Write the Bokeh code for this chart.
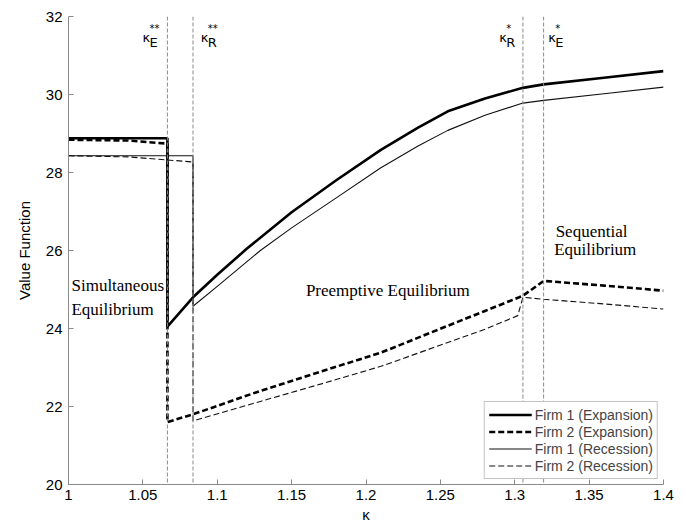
from bokeh.plotting import figure
from bokeh.models import Span, Legend, LegendItem, Range1d
from bokeh.core.properties import value
from bokeh.embed import file_html
from bokeh.resources import INLINE

# ---- axis ticks ----
x_ticks = [1.0, 1.05, 1.1, 1.15, 1.2, 1.25, 1.3, 1.35, 1.4]
x_tick_labels = ["1", "1.05", "1.1", "1.15", "1.2", "1.25", "1.3", "1.35", "1.4"]
y_ticks = [20, 22, 24, 26, 28, 30, 32]
y_tick_labels = ["20", "22", "24", "26", "28", "30", "32"]

# ---- thresholds (kappa_E**, kappa_R**, kappa_R*, kappa_E*) ----
thresholds = [1.0665, 1.0837, 1.3055, 1.3194]
threshold_subs = ["E", "R", "R", "E"]
threshold_sups = ["**", "**", "*", "*"]
threshold_label_x = [1.0498, 1.0889, 1.2896, 1.3226]
threshold_label_y = [31.45, 31.45, 31.45, 31.45]

# ---- series ----
f1e_x = [1.0, 1.0665, 1.0665, 1.0837, 1.10, 1.12, 1.15, 1.18, 1.21, 1.235, 1.255, 1.28, 1.3055, 1.3194, 1.36, 1.4]
f1e_y = [28.88, 28.88, 24.05, 24.80, 25.38, 26.05, 26.98, 27.80, 28.58, 29.15, 29.57, 29.90, 30.17, 30.26, 30.43, 30.60]

f2e_x = [1.0, 1.04, 1.0665, 1.0665, 1.0837, 1.129, 1.17, 1.21, 1.255, 1.28, 1.3055, 1.3194, 1.36, 1.4]
f2e_y = [28.84, 28.82, 28.74, 21.60, 21.80, 22.40, 22.90, 23.38, 24.07, 24.45, 24.84, 25.22, 25.10, 24.97]

f1r_x = [1.0, 1.0837, 1.0837, 1.10, 1.129, 1.15, 1.18, 1.21, 1.235, 1.255, 1.28, 1.3055, 1.3194, 1.36, 1.4]
f1r_y = [28.43, 28.43, 24.57, 25.08, 26.00, 26.58, 27.35, 28.12, 28.68, 29.08, 29.47, 29.78, 29.85, 30.02, 30.19]

f2r_x = [1.0, 1.04, 1.0837, 1.0837, 1.129, 1.17, 1.21, 1.255, 1.28, 1.302, 1.3055, 1.3194, 1.36, 1.4]
f2r_y = [28.43, 28.40, 28.27, 21.63, 22.13, 22.58, 23.03, 23.64, 23.98, 24.33, 24.80, 24.75, 24.63, 24.50]

series_names = ["Firm 1 (Expansion)", "Firm 2 (Expansion)", "Firm 1 (Recession)", "Firm 2 (Recession)"]

# ---- region annotations ----
region_text = ["Simultaneous", "Equilibrium", "Preemptive Equilibrium", "Sequential", "Equilibrium"]
region_x = [1.002, 1.002, 1.1596, 1.3275, 1.3265]
region_y = [25.10, 24.50, 24.97, 26.48, 26.02]

p = figure(width=674, height=525, output_backend="svg", toolbar_location=None,
           x_range=Range1d(1.0, 1.4), y_range=Range1d(20, 32),
           min_border_left=68, min_border_right=11, min_border_top=16, min_border_bottom=35)
p.outline_line_color = None
p.xgrid.grid_line_color = None
p.ygrid.grid_line_color = None
p.background_fill_color = "white"
p.border_fill_color = "white"

for ax in (p.xaxis[0], p.yaxis[0]):
    ax.axis_line_color = "#8a8a8a"
    ax.major_tick_line_color = "#8a8a8a"
    ax.major_tick_in = 5
    ax.major_tick_out = 0
    ax.minor_tick_line_color = None
    ax.major_label_text_font = "Liberation Sans"
    ax.major_label_text_font_size = "15px"
    ax.major_label_text_color = "black"
    ax.axis_label_text_font = "Liberation Sans"
    ax.axis_label_text_font_size = "15px"
    ax.axis_label_text_font_style = "normal"
    ax.axis_label_text_color = "black"

p.xaxis.ticker = x_ticks
p.xaxis.major_label_overrides = {t: l for t, l in zip(x_ticks, x_tick_labels)}
p.yaxis.ticker = y_ticks
p.yaxis.major_label_overrides = {t: l for t, l in zip(y_ticks, y_tick_labels)}
p.xaxis.axis_label = "κ"
p.yaxis.axis_label = "Value Function"
p.xaxis.major_label_standoff = 5
p.xaxis.axis_label_standoff = 3
p.yaxis.major_label_standoff = 6
p.yaxis.axis_label_standoff = 10

# threshold lines
for t in thresholds:
    p.add_layout(Span(location=t, dimension="height", line_color="#8a8a8a",
                      line_width=1, line_dash="4 2"))

# curves
r1 = p.line(f1e_x, f1e_y, line_color="black", line_width=2.6)
r2 = p.line(f2e_x, f2e_y, line_color="black", line_width=2.6, line_dash="6 3")
r3 = p.line(f1r_x, f1r_y, line_color="#111111", line_width=1.1)
r4 = p.line(f2r_x, f2r_y, line_color="#111111", line_width=1.1, line_dash="6 3")

# threshold labels
p.text(threshold_label_x, threshold_label_y, text=["κ"] * 4,
       text_font=value("DejaVu Sans"), text_font_size=value("13px"),
       text_align="left", text_baseline="alphabetic", text_color="black")
p.text(threshold_label_x, threshold_label_y, text=threshold_subs,
       text_font=value("DejaVu Sans"), text_font_size=value("13px"),
       x_offset=7, y_offset=5,
       text_align="left", text_baseline="alphabetic", text_color="black")
p.text(threshold_label_x, threshold_label_y, text=threshold_sups,
       text_font=value("DejaVu Sans"), text_font_size=value("10px"),
       x_offset=7, y_offset=-9,
       text_align="left", text_baseline="alphabetic", text_color="black")

# region labels
p.text(region_x, region_y, text=region_text,
       text_font=value("Liberation Serif"), text_font_size=value("17px"),
       text_align="left", text_baseline="middle", text_color="black")

legend = Legend(items=[LegendItem(label=n, renderers=[r]) for n, r in zip(series_names, [r1, r2, r3, r4])],
                location="bottom_right")
legend.label_text_font = "Liberation Sans"
legend.label_text_font_size = "14px"
legend.border_line_color = "#888888"
legend.border_line_width = 1
legend.background_fill_alpha = 1
legend.margin = 5
legend.padding = 4
legend.spacing = 0
legend.glyph_width = 43
legend.glyph_height = 17
legend.label_height = 17
legend.label_standoff = 3
p.add_layout(legend)

open("out.html", "w").write(file_html(p, INLINE))
